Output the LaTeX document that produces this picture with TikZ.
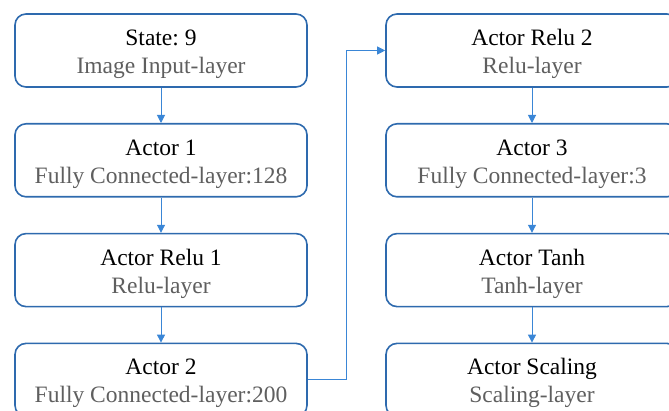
\documentclass[tikz,border=0pt]{standalone}
\usepackage{fontspec}
\setmainfont{Liberation Serif}
\usetikzlibrary{arrows.meta}
\frenchspacing
\definecolor{boxblue}{HTML}{2E6AAE}
\definecolor{arrblue}{HTML}{3A86D6}
\definecolor{subgray}{HTML}{5F5F5F}
\tikzset{
  layerbox/.style={draw=boxblue, line width=1.6pt, rounded corners=11pt, fill=white,
    minimum width=292pt, minimum height=73pt, align=center, inner sep=0pt,
    font=\fontsize{23.5}{28}\selectfont\frenchspacing},
  flow/.style={draw=arrblue, line width=1pt, -{Triangle[width=8pt,length=8pt]}}
}
\newcommand{\hd}[1]{\rule{0pt}{23pt}#1}
\newcommand{\sub}[1]{\textcolor{subgray}{#1}}
\begin{document}
\begin{tikzpicture}[x=1pt,y=-1pt]
\useasboundingbox (0,0) rectangle (669,411);
\clip (0,0) rectangle (669,411);
\node[layerbox] (s)  at (161,50.5)  {\hd{State: 9}\\\sub{Image Input-layer}};
\node[layerbox] (a1) at (161,160.3) {\hd{Actor 1}\\\sub{Fully Connected-layer:128}};
\node[layerbox] (r1) at (161,270.1) {\hd{Actor Relu 1}\\\sub{Relu-layer}};
\node[layerbox] (a2) at (161,379.9) {\hd{Actor 2}\\\sub{Fully Connected-layer:200}};
\node[layerbox] (r2) at (532,50.5)  {\hd{Actor Relu 2}\\\sub{Relu-layer}};
\node[layerbox] (a3) at (532,160.3) {\hd{Actor 3}\\\sub{Fully Connected-layer:3}};
\node[layerbox] (t)  at (532,270.1) {\hd{Actor Tanh}\\\sub{Tanh-layer}};
\node[layerbox] (sc) at (532,379.9) {\hd{Actor Scaling}\\\sub{Scaling-layer}};
\draw[flow] (s) -- (a1);
\draw[flow] (a1) -- (r1);
\draw[flow] (r1) -- (a2);
\draw[flow] (a2.east) -- ++(39,0) |- (r2.west);
\draw[flow] (r2) -- (a3);
\draw[flow] (a3) -- (t);
\draw[flow] (t) -- (sc);
\end{tikzpicture}
\end{document}
